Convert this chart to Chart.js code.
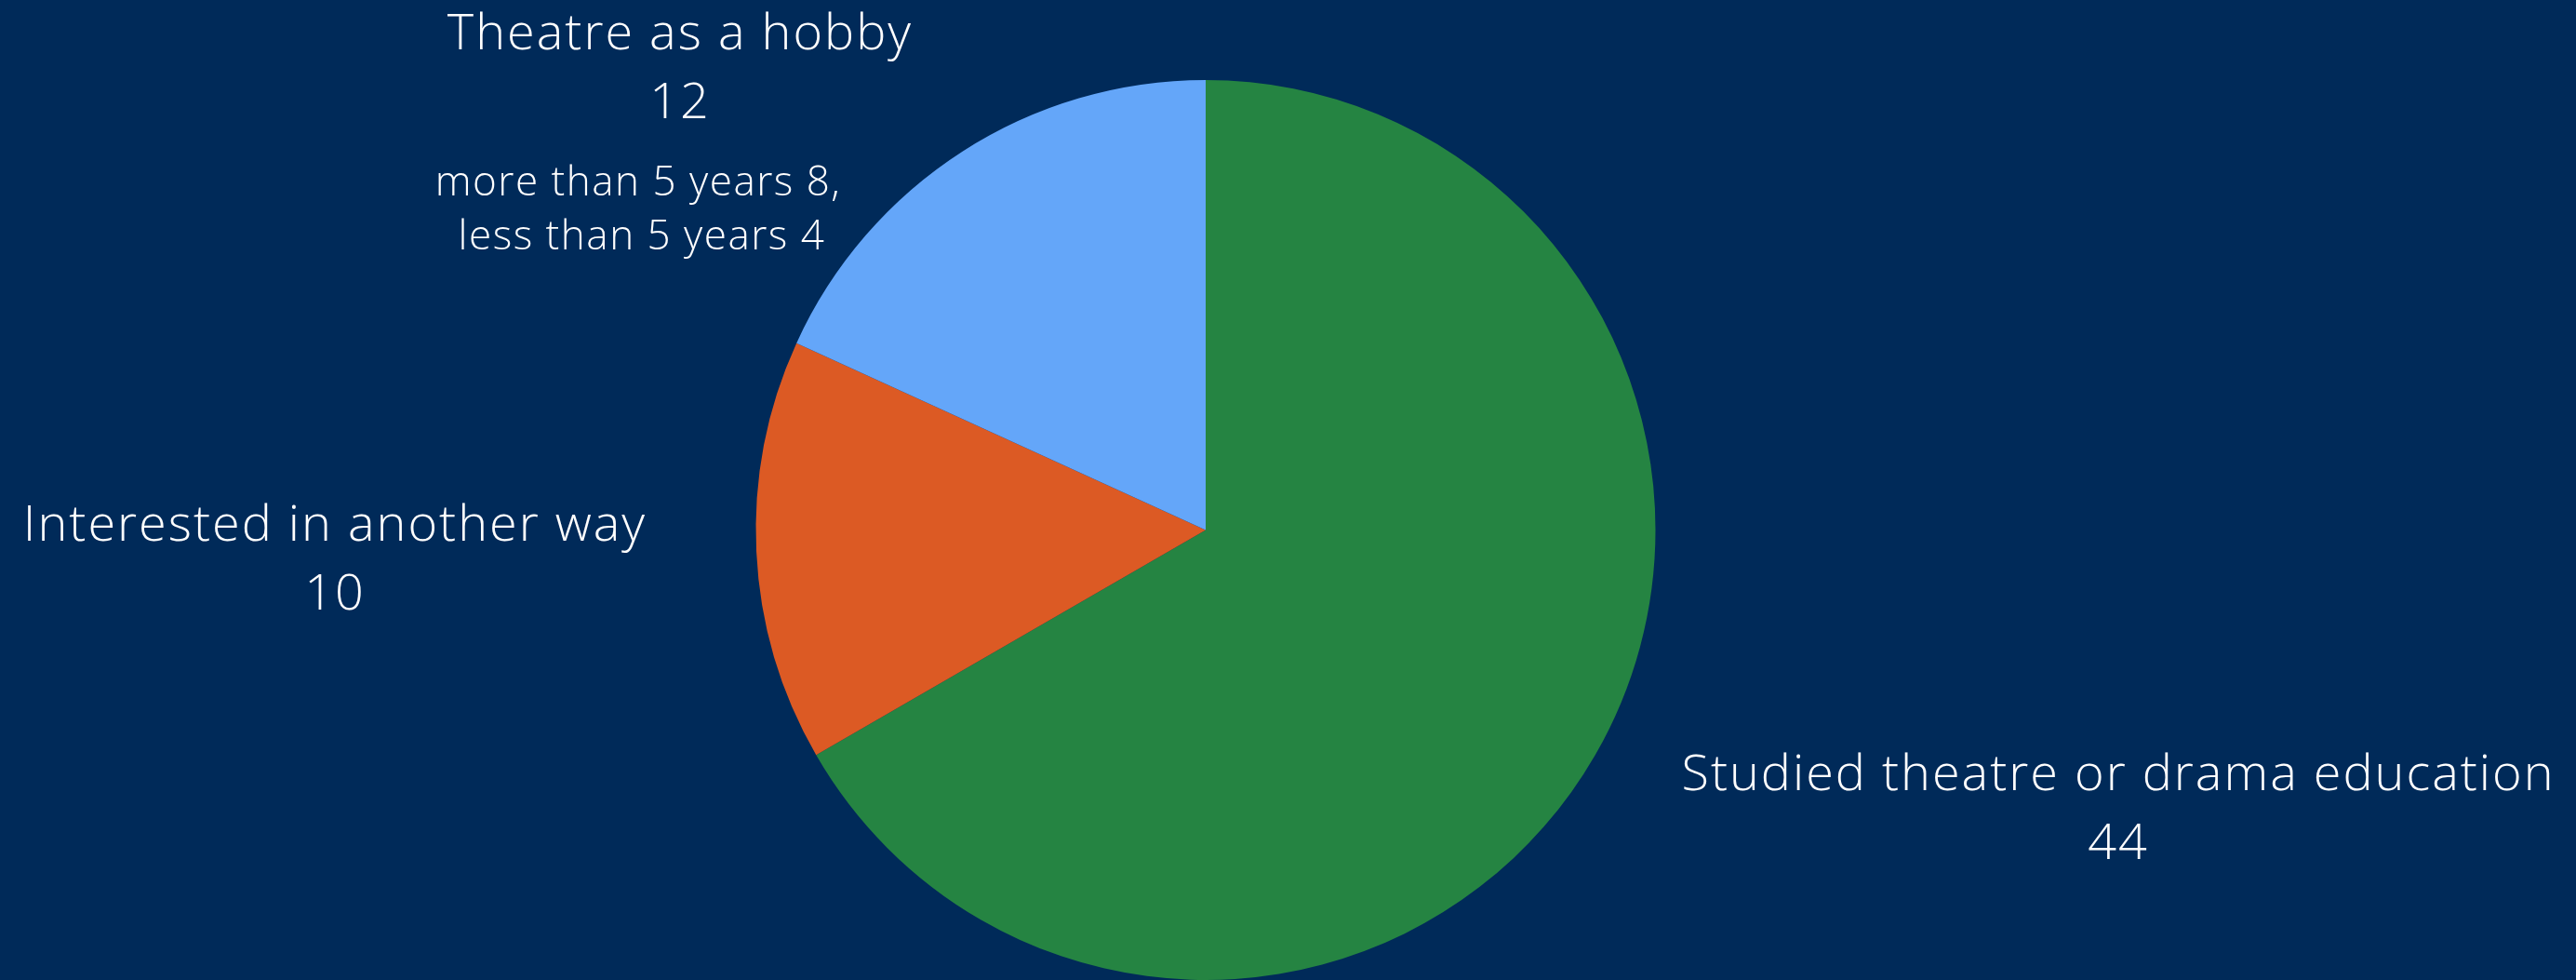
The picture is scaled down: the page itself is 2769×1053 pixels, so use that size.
<!DOCTYPE html>
<html>
<head>
<meta charset="utf-8">
<script src="https://cdn.jsdelivr.net/npm/chart.js@4.4.1/dist/chart.umd.min.js"></script>
<style>
  html, body { margin: 0; padding: 0; background: #002A59; }
  #wrap { width: 2769px; height: 1053px; position: relative; }
  canvas { display: block; }
</style>
</head>
<body>
<div id="wrap"><canvas id="chart" width="2769" height="1053"></canvas></div>
<script>
// Survey answers: how respondents relate to theatre
const categories = ['Studied theatre or drama education', 'Interested in another way', 'Theatre as a hobby'];
const counts = [44, 10, 12];
const sliceColors = ['#258442', '#DC5A24', '#64A6F9'];
// Breakdown shown under the hobby label
const hobbyBreakdown = ['more than 5 years 8,', 'less than 5 years 4'];

const FONT = '"Open Sans", "Noto Sans", sans-serif';

// Where each category label sits (centre x, first baseline y)
const labelSpots = [
  { x: 2277, y: 849 },
  { x: 360,  y: 581 },
  { x: 731,  y: 53 }
];

const outsideLabels = {
  id: 'outsideLabels',
  afterDatasetsDraw(chart) {
    const ctx = chart.ctx;
    const ds = chart.data.datasets[0];
    ctx.save();
    ctx.fillStyle = '#FFFFFF';
    ctx.textAlign = 'center';
    ctx.textBaseline = 'alphabetic';
    ctx.letterSpacing = '2px';
    chart.data.labels.forEach((name, i) => {
      const p = labelSpots[i];
      ctx.font = '300 54px ' + FONT;
      ctx.fillText(name, p.x, p.y);
      ctx.fillText(String(ds.data[i]), p.x, p.y + 74);
    });
    // breakdown lines under the hobby label
    ctx.letterSpacing = '1.5px';
    ctx.font = '300 44px ' + FONT;
    ctx.fillText(hobbyBreakdown[0], 686, 210);
    ctx.fillText(hobbyBreakdown[1], 690, 268);
    ctx.restore();
  }
};

new Chart(document.getElementById('chart'), {
  type: 'pie',
  data: {
    labels: categories,
    datasets: [{
      data: counts,
      backgroundColor: sliceColors,
      borderWidth: 0
    }]
  },
  options: {
    responsive: false,
    animation: false,
    layout: { padding: { top: 86, bottom: 0, left: 0, right: 177 } },
    plugins: {
      legend: { display: false },
      tooltip: { enabled: false }
    }
  },
  plugins: [outsideLabels]
});
</script>
</body>
</html>
